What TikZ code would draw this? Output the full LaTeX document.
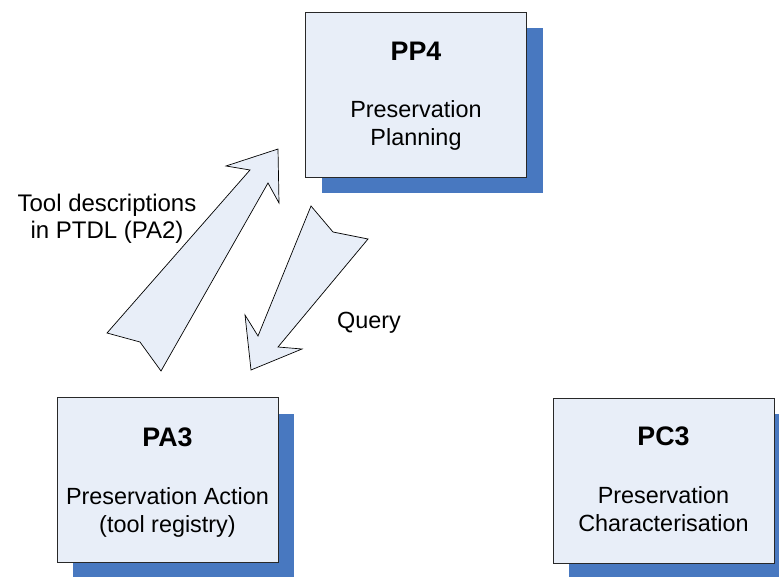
\documentclass[tikz,border=0pt]{standalone}
\usepackage{fontspec}
\setmainfont{Liberation Sans}
\usetikzlibrary{shadows,positioning}
\definecolor{boxfill}{RGB}{232,238,248}
\definecolor{shadowblue}{RGB}{72,120,192}
\definecolor{edgegray}{RGB}{40,40,40}

\begin{document}
\begin{tikzpicture}[%
        x=1pt, y=-1pt,
        wp/.style={draw=edgegray, line width=0.8pt, fill=boxfill,
                   minimum width=221pt, minimum height=165pt, inner sep=0pt,
                   drop shadow={shadow xshift=16pt, shadow yshift=-16pt,
                                fill=shadowblue, opacity=1}},
        wptitle/.style={font=\fontsize{26.8}{30}\selectfont\bfseries, anchor=base},
        wpbody/.style={font=\fontsize{23.4}{28}\selectfont, align=center, anchor=base},
        blockarrow/.style={draw=black, line width=0.7pt, fill=boxfill, line join=miter}
        ]

        \useasboundingbox (0,0) rectangle (779,577);

        % work packages
        \node[wp] (pp4) at (416,94.5) {};
        \node[wp] (pa3) at (167.5,480) {};
        \node[wp] (pc3) at (663.5,480.5) {};

        \node[wptitle] (pp4t) at ([yshift=-49pt]pp4.north) {PP4};
        \node[wpbody]  (pp4b) at ([yshift=-134pt]pp4.north) {Preservation\\Planning};
        \node[wptitle] (pa3t) at ([yshift=-49pt]pa3.north) {PA3};
        \node[wpbody]  (pa3b) at ([yshift=-135pt]pa3.north) {Preservation Action\\(tool registry)};
        \node[wptitle] (pc3t) at ([yshift=-48pt]pc3.north) {PC3};
        \node[wpbody]  (pc3b) at ([yshift=-134pt]pc3.north) {Preservation\\Characterisation};

        % block arrows
        \filldraw[blockarrow] (107,333) -- (250,170) -- (226,166) -- (278,149)
                -- (279,203) -- (268,183) -- (161,371) -- (140,342) -- cycle;
        \filldraw[blockarrow] (311,206) -- (333,232) -- (368,239) -- (278,347)
                -- (302,349) -- (251,370) -- (245,315) -- (258,336) -- cycle;

        % labels
        \node[wpbody, font=\fontsize{24}{26.5}\selectfont] (tooldesc) at (107,238.5)
                {Tool descriptions\\in PTDL (PA2)};
        \node[wpbody] (query) at (369,328) {Query};

\end{tikzpicture}
\end{document}
